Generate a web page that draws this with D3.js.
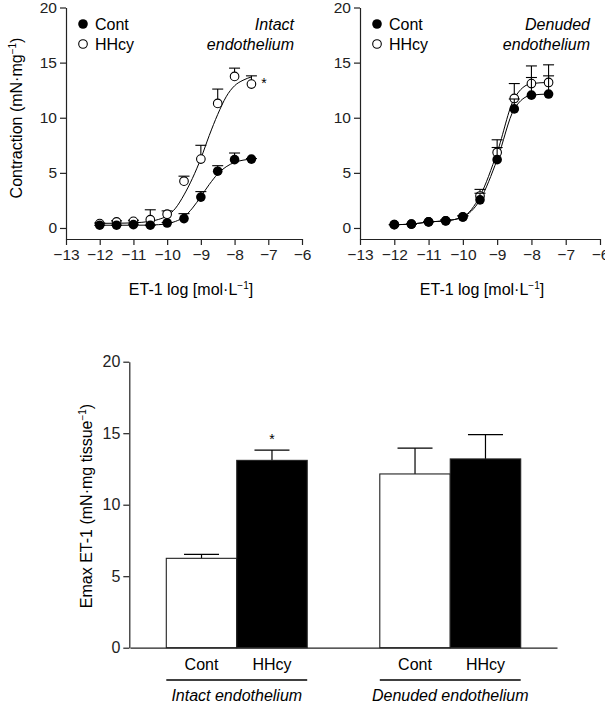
<!DOCTYPE html>
<html>
<head>
<meta charset="utf-8">
<script src="https://cdn.jsdelivr.net/npm/d3@7"></script>
<style>
  body { margin: 0; background: #fff; }
  text { font-family: "Liberation Sans", Arial, Helvetica, sans-serif; }
</style>
</head>
<body>
<div id="chart"></div>
<script>
// ---- data ----
const doses = [-12, -11.5, -11, -10.5, -10, -9.5, -9, -8.5, -8, -7.5];
const xTicks = [-13, -12, -11, -10, -9, -8, -7, -6];
const yTicks = [0, 5, 10, 15, 20];

// intact endothelium
const intactCont = [0.25, 0.25, 0.3, 0.25, 0.45, 0.85, 2.8, 5.15, 6.2, 6.25];
const intactContSem = [0, 0, 0.05, 0, 0.05, 0.45, 0.5, 0.5, 0.6, 0.05];
const intactHHcy = [0.4, 0.55, 0.6, 0.75, 1.25, 4.25, 6.25, 11.3, 13.75, 13.05];
const intactHHcySem = [0.05, 0.1, 0.1, 0.9, 0.3, 0.45, 1.25, 1.3, 0.75, 0.75];

// fitted curves
const fitX = [-12, -11.5, -11, -10.5, -10.25, -10, -9.75, -9.5, -9.25, -9, -8.75, -8.5, -8.25, -8, -7.75, -7.5];
const fitIntactHHcy = [0.42, 0.43, 0.47, 0.6, 0.78, 1.1, 1.8, 3.0, 4.5, 6.3, 8.4, 10.3, 11.9, 12.9, 13.4, 13.7];
const fitIntactCont = [0.25, 0.25, 0.25, 0.26, 0.3, 0.38, 0.6, 1.0, 1.8, 2.85, 3.95, 4.9, 5.55, 5.95, 6.15, 6.25];

// denuded endothelium
const denudedCont = [0.3, 0.35, 0.55, 0.65, 1.0, 2.55, 6.2, 10.8, 12.05, 12.15];
const denudedContSem = [0, 0, 0.05, 0.1, 0.1, 0.6, 1.1, 0.9, 1.6, 1.65];
const denudedHHcy = [0.3, 0.35, 0.55, 0.65, 1.0, 2.9, 6.85, 11.75, 13.1, 13.2];
const denudedHHcySem = [0, 0, 0, 0, 0.1, 0.6, 1.15, 1.35, 1.6, 1.6];

// Emax bar chart
const groups = ["Intact endothelium", "Denuded endothelium"];
const treatments = ["Cont", "HHcy"];
const emaxMean = [[6.25, 13.1], [12.15, 13.2]];
const emaxSem = [[0.28, 0.72], [1.8, 1.7]];

const ink = "#000";
const axisInk = "#222";
const fontFam = "Liberation Sans, Arial, sans-serif";

const svg = d3.select("#chart")
  .append("svg")
  .attr("width", 605)
  .attr("height", 705);

function addSup(textSel, before, sup, after) {
  textSel.append("tspan").text(before);
  textSel.append("tspan").text(sup).attr("font-size", 10).attr("dy", -6);
  textSel.append("tspan").text(after).attr("dy", 6);
}

function styleAxis(sel, size) {
  sel.attr("font-size", size || 15).attr("font-family", fontFam);
  sel.selectAll("path, line").attr("stroke-width", 1.2);
}

function drawPanel(opts) {
  const x = d3.scaleLinear().domain([-13, -6]).range(opts.xRange);
  const y = d3.scaleLinear().domain([-1, 20]).range([239, 7.5]);
  const g = svg.append("g");

  g.append("g")
    .attr("transform", "translate(0,239)")
    .style("color", axisInk)
    .call(d3.axisBottom(x).tickValues(xTicks).tickFormat(d3.format("d"))
      .tickSize(6).tickSizeOuter(0).tickPadding(4))
    .call(styleAxis, 15.5);

  g.append("g")
    .attr("transform", "translate(" + opts.xRange[0] + ",0)")
    .style("color", axisInk)
    .call(d3.axisLeft(y).tickValues(yTicks).tickFormat(d3.format("d"))
      .tickSize(6).tickSizeOuter(0).tickPadding(3))
    .call(styleAxis, 15.5);

  const line = d3.line()
    .x(d => x(d[0]))
    .y(d => y(d[1]))
    .curve(d3.curveMonotoneX);

  opts.curves.forEach(c => {
    g.append("path")
      .datum(c.xs.map((v, i) => [v, c.ys[i]]))
      .attr("d", line)
      .attr("fill", "none")
      .attr("stroke", ink)
      .attr("stroke-width", 1);
  });

  // series: HHcy (open) first, Cont (filled) on top
  opts.series.forEach(s => {
    const pts = doses.map((d, i) => ({ x: d, v: s.mean[i], e: s.sem[i] }));
    const eb = g.append("g");
    eb.selectAll("line.v").data(pts).enter().append("line")
      .attr("x1", d => x(d.x)).attr("x2", d => x(d.x))
      .attr("y1", d => y(d.v)).attr("y2", d => y(d.v + d.e))
      .attr("stroke", ink).attr("stroke-width", 1.1);
    eb.selectAll("line.c").data(pts).enter().append("line")
      .attr("x1", d => x(d.x) - 5.5).attr("x2", d => x(d.x) + 5.5)
      .attr("y1", d => y(d.v + d.e)).attr("y2", d => y(d.v + d.e))
      .attr("stroke", ink).attr("stroke-width", 1.1);
    g.selectAll(null).data(pts).enter().append("circle")
      .attr("cx", d => x(d.x))
      .attr("cy", d => y(d.v))
      .attr("r", s.filled ? 4.8 : 4.3)
      .attr("fill", s.filled ? ink : "#fff")
      .attr("stroke", ink)
      .attr("stroke-width", s.filled ? 0 : 1.1);
  });

  // legend
  const lx = opts.xRange[0] + 17;
  g.append("circle").attr("cx", lx).attr("cy", 24).attr("r", 4.8).attr("fill", ink);
  g.append("circle").attr("cx", lx).attr("cy", 44).attr("r", 4.3).attr("fill", "#fff")
    .attr("stroke", ink).attr("stroke-width", 1.1);
  g.append("text").attr("x", lx + 12).attr("y", 29.5).attr("font-size", 16).text("Cont");
  g.append("text").attr("x", lx + 12).attr("y", 49.5).attr("font-size", 16).text("HHcy");

  // condition note
  g.append("text").attr("x", opts.noteX).attr("y", 29.5).attr("font-size", 16)
    .attr("font-style", "italic").attr("text-anchor", "end").text(opts.note[0]);
  g.append("text").attr("x", opts.noteX).attr("y", 50).attr("font-size", 16)
    .attr("font-style", "italic").attr("text-anchor", "end").text(opts.note[1]);

  // x label
  const xl = g.append("text")
    .attr("x", opts.xLabelX).attr("y", 295).attr("font-size", 16)
    .attr("text-anchor", "middle");
  addSup(xl, "ET-1 log [mol·L", "−1", "]");

  if (opts.star) {
    g.append("text").attr("x", opts.star[0]).attr("y", opts.star[1])
      .attr("font-size", 14).attr("text-anchor", "middle").text("*");
  }
  return { x, y };
}

drawPanel({
  xRange: [66, 302],
  note: ["Intact", "endothelium"],
  noteX: 294,
  xLabelX: 191,
  star: [264, 88],
  curves: [{ xs: fitX, ys: fitIntactHHcy }, { xs: fitX, ys: fitIntactCont }],
  series: [
    { mean: intactHHcy, sem: intactHHcySem, filled: false },
    { mean: intactCont, sem: intactContSem, filled: true }
  ]
});

drawPanel({
  xRange: [360, 600],
  note: ["Denuded", "endothelium"],
  noteX: 590,
  xLabelX: 482,
  star: null,
  curves: [{ xs: doses, ys: denudedHHcy }, { xs: doses, ys: denudedCont }],
  series: [
    { mean: denudedHHcy, sem: denudedHHcySem, filled: false },
    { mean: denudedCont, sem: denudedContSem, filled: true }
  ]
});

// y label of top-left panel
const yl = svg.append("text")
  .attr("transform", "translate(22,118) rotate(-90)")
  .attr("font-size", 16)
  .attr("text-anchor", "middle");
addSup(yl, "Contraction (mN·mg", "−1", ")");

// ---- bar chart ----
const bx = d3.scaleBand().domain(groups).range([130, 557]).paddingInner(0.34).paddingOuter(0.17);
const bxi = d3.scaleBand().domain(treatments).range([0, bx.bandwidth()]);
const by = d3.scaleLinear().domain([0, 20]).range([647.7, 361.7]);

const bars = [];
groups.forEach((gname, gi) => {
  treatments.forEach((t, ti) => {
    bars.push({ group: gname, t: t, v: emaxMean[gi][ti], e: emaxSem[gi][ti] });
  });
});

const bg = svg.append("g");

// error bars (upwards)
bg.selectAll("line.err").data(bars).enter().append("line")
  .attr("x1", d => bx(d.group) + bxi(d.t) + bxi.bandwidth() / 2)
  .attr("x2", d => bx(d.group) + bxi(d.t) + bxi.bandwidth() / 2)
  .attr("y1", d => by(d.v)).attr("y2", d => by(d.v + d.e))
  .attr("stroke", ink).attr("stroke-width", 1.2);
bg.selectAll("line.cap").data(bars).enter().append("line")
  .attr("x1", d => bx(d.group) + bxi(d.t) + bxi.bandwidth() / 2 - 17.5)
  .attr("x2", d => bx(d.group) + bxi(d.t) + bxi.bandwidth() / 2 + 17.5)
  .attr("y1", d => by(d.v + d.e)).attr("y2", d => by(d.v + d.e))
  .attr("stroke", ink).attr("stroke-width", 1.2);

bg.selectAll("rect").data(bars).enter().append("rect")
  .attr("x", d => bx(d.group) + bxi(d.t))
  .attr("y", d => by(d.v))
  .attr("width", bxi.bandwidth())
  .attr("height", d => by(0) - by(d.v))
  .attr("fill", d => d.t === "Cont" ? "#fff" : ink)
  .attr("stroke", axisInk)
  .attr("stroke-width", 1.1);

svg.append("g")
  .attr("transform", "translate(0,647.7)")
  .style("color", axisInk)
  .call(d3.axisBottom(bx).tickValues([]).tickSize(0).tickSizeOuter(0))
  .select("path").attr("stroke-width", 1.2);

svg.append("g")
  .attr("transform", "translate(129.3,0)")
  .style("color", axisInk)
  .call(d3.axisLeft(by).tickValues(yTicks).tickFormat(d3.format("d"))
    .tickSize(6).tickSizeOuter(0).tickPadding(3))
  .call(styleAxis, 16);

// treatment labels
bg.selectAll("text.tr").data(bars).enter().append("text")
  .attr("x", d => bx(d.group) + bxi(d.t) + bxi.bandwidth() / 2)
  .attr("y", 670)
  .attr("font-size", 16)
  .attr("text-anchor", "middle")
  .text(d => d.t);

// group underline + label
bg.selectAll("line.grp").data(groups).enter().append("line")
  .attr("x1", d => bx(d)).attr("x2", d => bx(d) + bx.bandwidth())
  .attr("y1", 680).attr("y2", 680)
  .attr("stroke", ink).attr("stroke-width", 1.5);
bg.selectAll("text.grp").data(groups).enter().append("text")
  .attr("x", d => bx(d) + bx.bandwidth() / 2)
  .attr("y", 701)
  .attr("font-size", 16)
  .attr("font-style", "italic")
  .attr("text-anchor", "middle")
  .text(d => d);

// significance star over HHcy intact
bg.append("text")
  .attr("x", bx(groups[0]) + bxi("HHcy") + bxi.bandwidth() / 2)
  .attr("y", by(emaxMean[0][1] + emaxSem[0][1]) - 6)
  .attr("font-size", 14).attr("text-anchor", "middle").text("*");

const byl = svg.append("text")
  .attr("transform", "translate(92,506) rotate(-90)")
  .attr("font-size", 16)
  .attr("text-anchor", "middle");
addSup(byl, "Emax ET-1 (mN·mg tissue", "−1", ")");
</script>
</body>
</html>
